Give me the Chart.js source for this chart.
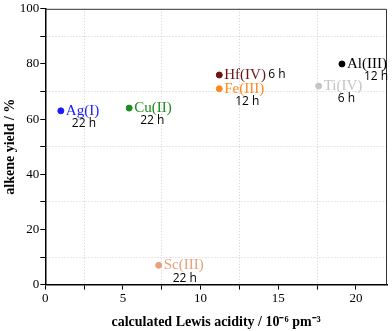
<!DOCTYPE html>
<html>
<head>
<meta charset="utf-8">
<script src="https://cdn.jsdelivr.net/npm/chart.js@4/dist/chart.umd.min.js"></script>
<style>
  html, body { margin: 0; padding: 0; background: #fff; }
  #wrap { width: 392px; height: 331px; }
</style>
</head>
<body>
<div id="wrap"><canvas id="lewisChart"></canvas></div>
<script>
const catalysts = ['Ag(I)', 'Cu(II)', 'Sc(III)', 'Fe(III)', 'Hf(IV)', 'Ti(IV)', 'Al(III)'];
const acidity = [1.0, 5.4, 7.3, 11.2, 11.2, 17.6, 19.1];
const yieldPct = [63, 64, 7, 71, 76, 72, 80];
const times = ['22 h', '22 h', '22 h', '12 h', '6 h', '6 h', '12 h'];

const xTicks = [0, 5, 10, 15, 20];
const yTicks = [0, 20, 40, 60, 80, 100];

// styling only
const colors = ['#1a1aff', '#1e8a1e', '#e9a07c', '#ff8a1c', '#6b1515', '#c4c4c4', '#000000'];
const timeOffsets = [[11, 13], [11, 12], [14, 13], [16, 13], [49, 0], [19, 13], [22, 13]];

const serif = '"Liberation Serif", "Times New Roman", serif';

const pointLabels = {
    id: 'pointLabels',
    afterDatasetsDraw(chart) {
        const ctx = chart.ctx;
        const pts = chart.getDatasetMeta(0).data;
        ctx.save();
        ctx.textBaseline = 'middle';
        ctx.textAlign = 'left';
        pts.forEach((p, i) => {
            ctx.fillStyle = colors[i];
            ctx.font = '15px ' + serif;
            ctx.fillText(catalysts[i], p.x + 5, p.y);
            ctx.fillStyle = '#000';
            ctx.font = '12px "Open Sans", "DejaVu Sans", sans-serif';
            ctx.fillText(times[i], p.x + timeOffsets[i][0], p.y + timeOffsets[i][1]);
        });
        ctx.restore();
    }
};

const frame = {
    id: 'frame',
    beforeDatasetsDraw(chart) {
        const {ctx, chartArea: a} = chart;
        ctx.save();
        ctx.strokeStyle = '#333';
        ctx.lineWidth = 1;
        ctx.beginPath();
        ctx.moveTo(a.left, a.top + 0.5);
        ctx.lineTo(a.right - 0.5, a.top + 0.5);
        ctx.lineTo(a.right - 0.5, a.bottom);
        ctx.stroke();
        ctx.restore();
    }
};

const isMajor = (v, list) => list.some(t => Math.abs(t - v) < 1e-6);

new Chart(document.getElementById('lewisChart'), {
    type: 'scatter',
    data: {
        datasets: [{
            data: acidity.map((x, i) => ({x: x, y: yieldPct[i]})),
            pointBackgroundColor: colors,
            pointBorderColor: colors,
            pointRadius: 3,
            showLine: false
        }]
    },
    options: {
        responsive: true,
        maintainAspectRatio: false,
        animation: false,
        layout: { padding: { top: 7, right: 0, left: 2, bottom: 0 } },
        plugins: { legend: { display: false }, tooltip: { enabled: false } },
        scales: {
            x: {
                type: 'linear',
                min: 0,
                max: 22,
                ticks: {
                    stepSize: 2.5,
                    includeBounds: false,
                    autoSkip: false,
                    maxRotation: 0,
                    color: '#000',
                    padding: 1,
                    font: { family: serif, size: 13 },
                    callback: v => isMajor(v, xTicks) ? v : ''
                },
                grid: {
                    color: c => (c.tick && !isMajor(c.tick.value, xTicks)) ? '#cfcfcf' : 'rgba(0,0,0,0)',
                    tickColor: '#000',
                    tickLength: 5,
                    lineWidth: 1
                },
                border: { color: '#000', width: 1.5, dash: [1, 2] },
                title: {
                    display: true,
                    text: 'calculated Lewis acidity / 10⁻⁶ pm⁻³',
                    color: '#000',
                    font: { family: serif, size: 14, weight: 'bold' },
                    padding: { top: 7, bottom: 0 }
                }
            },
            y: {
                type: 'linear',
                min: 0,
                max: 100,
                ticks: {
                    stepSize: 10,
                    autoSkip: false,
                    color: '#000',
                    padding: 1,
                    font: { family: serif, size: 13 },
                    callback: v => isMajor(v, yTicks) ? v : ''
                },
                grid: {
                    color: c => (c.tick && !isMajor(c.tick.value, yTicks)) ? '#cfcfcf' : 'rgba(0,0,0,0)',
                    tickColor: '#000',
                    tickLength: 5,
                    lineWidth: 1
                },
                border: { color: '#000', width: 1.5, dash: [1, 2] },
                title: {
                    display: true,
                    text: 'alkene yield / %',
                    color: '#000',
                    font: { family: serif, size: 14, weight: 'bold' },
                    padding: { top: 0, bottom: 0 }
                }
            }
        }
    },
    plugins: [frame, pointLabels]
});
</script>
</body>
</html>
